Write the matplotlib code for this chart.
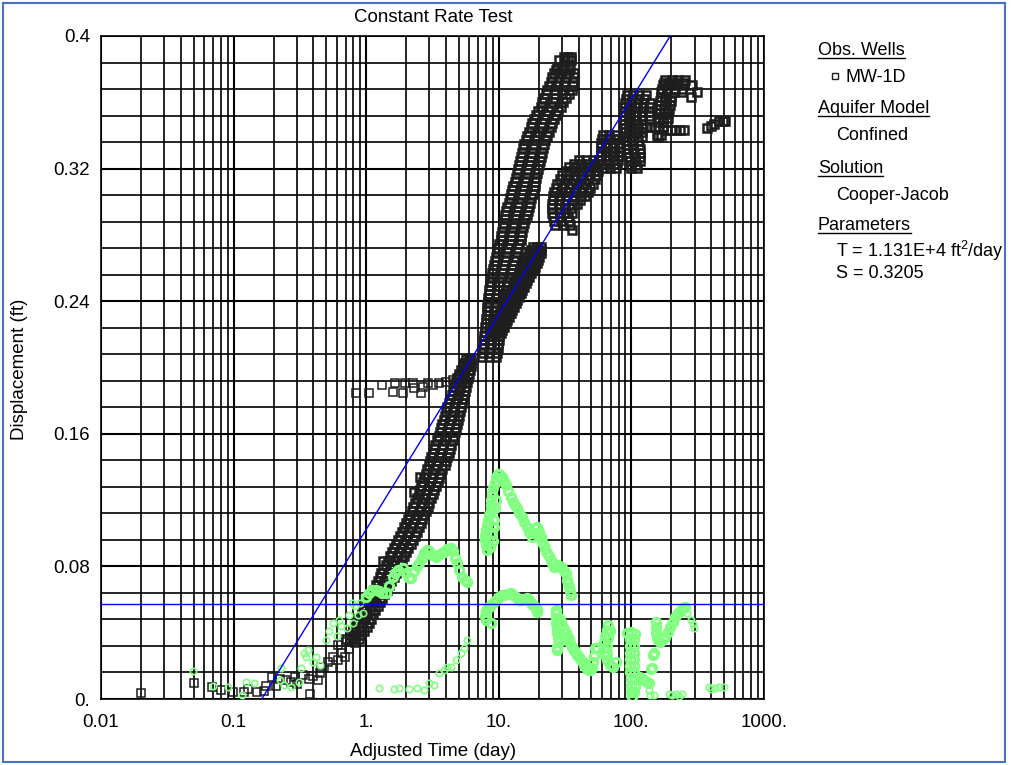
import numpy as np
import matplotlib
matplotlib.use('Agg')
import matplotlib.pyplot as plt
from matplotlib.ticker import FixedLocator, FixedFormatter, NullFormatter, LogLocator
from matplotlib.patches import Rectangle
from matplotlib.lines import Line2D

plt.rcParams['font.family'] = ['Liberation Sans', 'DejaVu Sans']
plt.rcParams['mathtext.fontset'] = 'custom'
plt.rcParams['mathtext.rm'] = 'Liberation Sans'

# axis ticks
x_ticks = [0.01, 0.1, 1, 10, 100, 1000]
x_labels = ['0.01', '0.1', '1.', '10.', '100.', '1000.']
y_ticks = [0.0, 0.08, 0.16, 0.24, 0.32, 0.4]
y_labels = ['0.', '0.08', '0.16', '0.24', '0.32', '0.4']
y_grid = [0.016 * i for i in range(26)]

# MW-1D observations (time in days, displacement in ft)
mw1d_early = [(0.0202, 0.0034), (0.050, 0.0095), (0.069, 0.007), (0.080, 0.0054), (0.099, 0.0044),
              (0.119, 0.0044), (0.129, 0.0058), (0.149, 0.0044), (0.169, 0.005), (0.177, 0.0078),
              (0.196, 0.013), (0.21, 0.008), (0.223, 0.0119), (0.25, 0.0115), (0.27, 0.010),
              (0.289, 0.013), (0.30, 0.009), (0.334, 0.0145), (0.375, 0.003), (0.37, 0.0119),
              (0.40, 0.014), (0.432, 0.0115), (0.445, 0.0155), (0.46, 0.0195), (0.515, 0.0225),
              (0.55, 0.019), (0.561, 0.0255), (0.612, 0.0235), (0.66, 0.028), (0.687, 0.0255),
              (0.612, 0.0326), (0.708, 0.0346), (0.74, 0.030), (0.76, 0.037), (0.83, 0.034),
              (0.794, 0.0406)]

mw1d_plateau = [(0.832, 0.1848), (1.05, 0.1848), (1.32, 0.1894), (1.59, 0.1854), (1.64, 0.1905),
                (1.89, 0.1848), (1.95, 0.1905), (2.25, 0.1905), (2.31, 0.1874), (2.6, 0.1844),
                (2.67, 0.1884), (2.92, 0.1905), (3.18, 0.1894), (3.57, 0.1905), (4.01, 0.1914),
                (4.5, 0.1925), (5.05, 0.1945), (5.5, 0.1975), (5.84, 0.2025)]

mw1d_lower_rows = [
    (0.036, [0.71, 0.80, 0.88]), (0.0385, [0.75, 0.84, 0.92]), (0.041, [0.79, 0.88, 0.97]),
    (0.0435, [0.82, 0.91, 1.01]), (0.046, [0.86, 0.95, 1.05]), (0.0485, [0.89, 0.98, 1.08]),
    (0.051, [0.93, 1.02, 1.12]), (0.0535, [0.96, 1.06, 1.17]), (0.056, [1.0, 1.1, 1.22]),
    (0.0585, [1.03, 1.14, 1.27]), (0.061, [1.07, 1.18, 1.32]), (0.0635, [1.10, 1.22, 1.37]),
    (0.066, [1.14, 1.27, 1.43]), (0.0685, [1.18, 1.31, 1.49]), (0.071, [1.22, 1.36, 1.55]),
    (0.0735, [1.26, 1.41, 1.61]), (0.076, [1.30, 1.46, 1.67]), (0.0785, [1.35, 1.51, 1.73]),
    (0.081, [1.40, 1.57, 1.80]), (0.0835, [1.45, 1.63, 1.87]), (0.086, [1.50, 1.70, 1.94]),
    (0.0885, [1.56, 1.76, 2.01]), (0.091, [1.62, 1.83, 2.08]), (0.0935, [1.68, 1.90, 2.16]),
    (0.096, [1.74, 1.97, 2.24]), (0.0985, [1.80, 2.04, 2.32]), (0.101, [1.87, 2.11, 2.40]),
    (0.1035, [1.93, 2.18, 2.48]), (0.106, [2.0, 2.26, 2.57]), (0.1085, [2.07, 2.34, 2.65]),
    (0.111, [2.14, 2.42, 2.74]), (0.1135, [2.20, 2.49, 2.82]), (0.116, [2.27, 2.57, 2.90]),
    (0.1185, [2.34, 2.65, 2.98]), (0.121, [2.42, 2.73, 3.07]), (0.1235, [2.48, 2.80, 3.17]),
    (0.126, [2.55, 2.88, 3.27]), (0.1285, [2.61, 2.96, 3.36]), (0.131, [2.68, 3.04, 3.45]),
    (0.1335, [2.75, 3.12, 3.54]), (0.136, [2.82, 3.20, 3.63]), (0.1385, [2.89, 3.28, 3.76]),
    (0.141, [2.96, 3.37, 3.90]), (0.1435, [3.03, 3.46, 4.00]), (0.146, [3.10, 3.55, 4.10]),
    (0.1485, [3.17, 3.63, 4.20]), (0.151, [3.25, 3.72, 4.30]), (0.1535, [3.33, 3.81, 4.39]),
    (0.156, [3.42, 3.90, 4.48]), (0.1585, [3.51, 3.99, 4.56]), (0.161, [3.60, 4.08, 4.64]),
    (0.1635, [3.68, 4.16, 4.72]), (0.166, [3.76, 4.24, 4.80]), (0.1685, [3.84, 4.33, 4.89]),
    (0.171, [3.93, 4.42, 4.98]), (0.1735, [4.01, 4.51, 5.07]), (0.176, [4.10, 4.60, 5.17]),
    (0.1785, [4.20, 4.70, 5.26]), (0.181, [4.30, 4.80, 5.36]), (0.1835, [4.41, 4.90, 5.45]),
    (0.186, [4.52, 5.00, 5.55]), (0.1885, [4.63, 5.11, 5.64]), (0.191, [4.75, 5.22, 5.74]),
    (0.1935, [4.87, 5.33, 5.83]), (0.196, [5.00, 5.45, 5.92]), (0.1985, [5.17, 5.58, 6.02]),
    (0.201, [5.35, 5.72, 6.12]), (0.203, [5.5, 5.84, 6.16]), (0.205, [5.65, 5.95, 6.2]),
    (0.083, [1.33]), (0.125, [2.3]), (0.134, [2.55]),
]

mw1d_band_a_rows = [
    (0.2065, [7.5, 8.4, 9.5]), (0.209, [7.55, 8.5, 9.65]), (0.2116, [7.6, 8.6, 9.8]),
    (0.2141, [7.67, 8.7, 9.9]), (0.2166, [7.74, 8.8, 10.0]), (0.2192, [7.8, 8.85, 10.05]),
    (0.2217, [7.85, 8.9, 10.1]), (0.2242, [7.9, 8.95, 10.2]), (0.2267, [7.97, 9.0, 10.3]),
    (0.2292, [8.03, 9.1, 10.4]), (0.2317, [8.1, 9.2, 10.45]), (0.2342, [8.15, 9.25, 10.5]),
    (0.2367, [8.2, 9.3, 10.6]), (0.2393, [8.25, 9.4, 10.75]), (0.2418, [8.3, 9.5, 10.9]),
    (0.2443, [8.37, 9.65, 11.1]), (0.2468, [8.44, 9.8, 11.3]), (0.2493, [8.57, 9.95, 11.55]),
    (0.2518, [8.7, 10.1, 11.8]), (0.2543, [8.82, 10.3, 12.05]), (0.2568, [8.94, 10.5, 12.3]),
    (0.2594, [9.07, 10.7, 12.55]), (0.2619, [9.2, 10.9, 12.8]), (0.2644, [9.34, 11.1, 13.1]),
    (0.2669, [9.48, 11.3, 13.4]), (0.2694, [9.7, 11.55, 13.7]), (0.2719, [9.9, 11.8, 14.0]),
    (0.2744, [10.1, 12.05, 14.3]), (0.2769, [10.3, 12.3, 14.6]), (0.2795, [10.45, 12.45, 14.8]),
    (0.282, [10.6, 12.6, 15.0]), (0.2845, [10.75, 12.8, 15.25]), (0.287, [10.9, 13.0, 15.5]),
    (0.2895, [11.05, 13.25, 15.85]), (0.292, [11.2, 13.5, 16.2]), (0.2945, [11.4, 13.75, 16.55]),
    (0.297, [11.6, 14.0, 16.9]), (0.2995, [11.85, 14.3, 17.25]), (0.302, [12.1, 14.6, 17.6]),
    (0.3045, [12.35, 14.9, 18.0]), (0.3071, [12.6, 15.2, 18.4]), (0.3096, [12.9, 15.5, 18.65]),
    (0.3121, [13.2, 15.8, 18.9]), (0.3146, [13.5, 16.1, 19.2]), (0.3172, [13.8, 16.4, 19.5]),
    (0.3197, [14.0, 16.65, 19.8]), (0.3222, [14.2, 16.9, 20.1]), (0.3247, [14.4, 17.15, 20.4]),
    (0.3272, [14.6, 17.4, 20.7]), (0.3297, [14.9, 17.75, 21.15]), (0.3322, [15.2, 18.1, 21.6]),
    (0.3347, [15.55, 18.5, 22.05]), (0.3373, [15.9, 18.9, 22.5]), (0.3398, [16.4, 19.45, 23.15]),
    (0.3423, [16.9, 20.0, 23.8]), (0.3448, [17.4, 20.65, 24.55]), (0.3473, [17.9, 21.3, 25.3]),
    (0.3498, [18.55, 22.0, 26.1]), (0.3523, [19.2, 22.8, 27.0]), (0.3548, [19.9, 23.7, 28.1]),
    (0.3574, [20.7, 24.6, 29.2]), (0.3599, [21.3, 25.5, 30.6]), (0.3624, [22.0, 26.5, 32.0]),
    (0.3649, [22.6, 26.5, 30.0, 34.0]), (0.3674, [23.2, 26.5, 30.5, 35.8]),
    (0.37, [23.9, 27.2, 31.1, 36.1]), (0.3725, [24.6, 27.8, 31.8, 36.5]),
    (0.375, [25.3, 28.6, 32.4, 36.6]), (0.3775, [26.1, 29.5, 33.0, 36.8]),
    (0.3795, [26.8, 30.2, 33.8]), (0.3815, [27.5, 31.0, 34.5]), (0.3855, [28.4, 31.5, 34.8]),
    (0.3875, [31.0, 33.0, 35.0]),
]

mw1d_band_b_rows = [
    (0.2206, [8.6, 9.4, 10.3]), (0.2226, [8.9, 9.75, 10.65]), (0.2247, [9.2, 10.1, 11.0]),
    (0.2267, [9.45, 10.35, 11.3]), (0.2287, [9.7, 10.6, 11.6]), (0.2307, [9.95, 10.9, 11.95]),
    (0.2327, [10.2, 11.2, 12.3]), (0.2347, [10.5, 11.55, 12.65]), (0.2367, [10.8, 11.9, 13.0]),
    (0.2388, [11.1, 12.25, 13.4]), (0.2408, [11.4, 12.6, 13.8]), (0.2428, [11.7, 12.95, 14.2]),
    (0.2448, [12.0, 13.3, 14.6]), (0.2468, [12.35, 13.65, 15.05]), (0.2488, [12.7, 14.0, 15.5]),
    (0.2508, [13.05, 14.4, 15.95]), (0.2528, [13.4, 14.8, 16.4]), (0.2548, [13.75, 15.3, 17.0]),
    (0.2568, [14.1, 15.8, 17.6]), (0.2588, [14.5, 16.3, 18.25]), (0.2608, [14.9, 16.8, 18.9]),
    (0.2629, [15.35, 17.3, 19.35]), (0.2649, [15.8, 17.8, 19.8]), (0.2669, [16.35, 18.25, 20.25]),
    (0.2689, [16.9, 18.7, 20.7]), (0.2709, [17.45, 19.1, 20.7]), (0.2729, [18.0, 19.5, 20.7]),
    (0.283, [35.5]), (0.286, [26.5, 30.5, 34.5]), (0.2885, [26.0, 29.7, 33.7]),
    (0.291, [25.5, 29.0, 33.0]), (0.2935, [25.4, 28.7, 32.2, 35.5]),
    (0.296, [25.3, 28.4, 31.5, 35.0]), (0.2985, [25.4, 28.4, 31.7, 35.7, 39]),
    (0.301, [25.5, 28.5, 32.0, 36.5, 41]), (0.3035, [25.8, 29.0, 32.5, 36.7, 41.5, 45]),
    (0.306, [26.1, 29.5, 33.0, 37.0, 42, 47]), (0.3085, [26.8, 30.2, 34.0, 38.5, 43.5, 49]),
    (0.311, [27.5, 31.0, 35.0, 40.0, 45, 51]), (0.3135, [28.7, 32.5, 36.5, 41.5, 47, 53]),
    (0.316, [30.0, 34.0, 38.0, 43.0, 49, 55]), (0.3185, [32.0, 36.0, 40.5, 46.0, 52, 56]),
    (0.321, [34.0, 38.5, 43.5, 49.0, 55]), (0.323, [37.0, 42.0, 47.0, 52.5, 56]),
    (0.325, [40.0, 45.5, 51.0, 57]),
]

mw1d_late_rows = [
    (0.3403, [61, 68, 76]), (0.3378, [60, 67, 74, 79]), (0.3353, [59, 66, 73, 80]),
    (0.3328, [58.7, 65.5, 72.5, 80]), (0.3303, [58.5, 65, 72, 80]), (0.3278, [58.7, 65.5, 72.5, 79.5]),
    (0.3253, [59, 66, 73, 79]), (0.3228, [60.5, 67.5, 74.5, 78]), (0.3203, [62, 69, 76]),
    (0.3644, [93, 103, 115, 128]), (0.3619, [91, 101, 112, 125]), (0.3594, [89, 99, 110, 122, 138]),
    (0.3569, [88.5, 98.5, 109.5, 121.5, 136]), (0.3544, [88, 98, 109, 121, 135]),
    (0.3519, [88, 98, 109, 121, 136]), (0.3494, [88, 98, 109, 121, 138]),
    (0.3469, [88.5, 98.5, 109.5, 120.5]), (0.3443, [89, 99, 110, 120]),
    (0.3418, [89.5, 99.5, 110.5, 120]), (0.3393, [90, 100, 111, 120]), (0.3368, [91, 101, 112]),
    (0.3343, [92, 102, 114]), (0.3318, [93.5, 103.5, 115.5]), (0.3293, [95, 105, 117]),
    (0.3268, [96, 106, 116.5]), (0.3243, [97, 107, 116]), (0.3223, [98.5, 108.5]), (0.3203, [100, 110]),
    (0.3734, [180, 201, 225, 255]), (0.3719, [176, 195, 220, 250]), (0.3704, [172, 190, 215, 245, 285]),
    (0.3683, [170, 187, 212, 242]), (0.3663, [168, 185, 210, 240, 311]), (0.3632, [166, 180, 200, 280]),
    (0.3608, [165, 179, 198]), (0.3583, [164, 178, 196]), (0.3558, [163, 176.5, 193]),
    (0.3533, [162, 175, 190]), (0.3508, [161, 173.5, 187.5]), (0.3483, [160, 172, 185]),
    (0.3453, [128, 140, 150, 160, 172]), (0.3433, [186, 200, 215, 231, 248]),
    (0.3403, [156, 168]), (0.3391, [160]),
    (0.3445, [370]), (0.346, [395]), (0.347, [420]), (0.3485, [455]), (0.349, [490, 510]),
]

# second (unlabelled) data set, light green circles
green_early = [(0.0492, 0.0171), (0.0697, 0.0078), (0.0903, 0.0071), (0.116, 0.0024), (0.124, 0.0104),
               (0.1435, 0.0095), (0.223, 0.0115), (0.228, 0.0185), (0.241, 0.0084), (0.271, 0.0071),
               (0.313, 0.0104), (0.322, 0.0185), (0.341, 0.0276), (0.352, 0.0255), (0.361, 0.0296),
               (0.394, 0.0225), (0.418, 0.0255), (0.445, 0.0205), (0.497, 0.0356), (0.52, 0.041),
               (0.557, 0.0457), (0.60, 0.038), (0.627, 0.0477), (0.65, 0.044), (0.72, 0.043),
               (0.745, 0.0507), (0.785, 0.058), (0.79, 0.0457), (0.82, 0.056), (0.86, 0.0507),
               (0.9, 0.058), (0.95, 0.052)]

green_rise_2 = [(1.25, 0.0065), (1.62, 0.006), (1.77, 0.0065), (2.1, 0.0062), (2.43, 0.0065), (2.73, 0.0054),
                (2.98, 0.0095), (3.25, 0.0084), (3.55, 0.0155), (3.87, 0.0175), (4.1, 0.0195),
                (4.37, 0.0193), (4.73, 0.0235), (5.17, 0.0276), (5.47, 0.0308), (5.79, 0.0356)]

green_sparse_late = [(191, 0.003), (201, 0.0024), (216, 0.003), (228, 0.0018), (240, 0.003), (383, 0.007),
                     (400, 0.006), (427, 0.0065), (460, 0.007), (497, 0.007), (263, 0.0517),
                     (280, 0.0477), (290, 0.045), (297, 0.0427), (135, 0.0054), (147.5, 0.0024),
                     (139, 0.0024)]

green_rise_1 = [(1.0, 0.0617), (1.05, 0.064), (1.1, 0.066), (1.18, 0.0658), (1.25, 0.065), (1.32, 0.064),
                (1.41, 0.0638), (1.48, 0.068), (1.58, 0.0738), (1.66, 0.076), (1.75, 0.078), (1.88, 0.0789),
                (2.0, 0.076), (2.1, 0.073), (2.17, 0.0728), (2.3, 0.077), (2.4, 0.080), (2.5, 0.0819),
                (2.62, 0.085), (2.75, 0.088), (2.89, 0.0899), (3.0, 0.089), (3.15, 0.087), (3.34, 0.0859),
                (3.5, 0.087), (3.7, 0.088), (3.86, 0.0889), (4.1, 0.0905), (4.34, 0.0909), (4.5, 0.089),
                (4.7, 0.085), (4.87, 0.0819), (5.05, 0.078), (5.31, 0.0738), (5.55, 0.072), (5.8, 0.0708)]

green_peak = [(8.2, 0.0899), (8.0, 0.093), (7.9, 0.096), (7.9, 0.099), (7.97, 0.102), (8.1, 0.105),
              (8.3, 0.108), (8.5, 0.111), (8.69, 0.114), (8.75, 0.117), (8.8, 0.12), (8.94, 0.1241),
              (9.1, 0.127), (9.3, 0.1305), (9.48, 0.1341), (9.8, 0.1355), (10.1, 0.1355), (10.5, 0.134),
              (10.9, 0.1315), (11.3, 0.1291), (11.8, 0.1255), (12.3, 0.122), (12.8, 0.119), (13.3, 0.117),
              (13.8, 0.115), (14.3, 0.1125), (14.9, 0.11), (15.5, 0.107), (16.2, 0.104), (16.9, 0.101),
              (17.9, 0.0979), (18.5, 0.1), (19.0, 0.103), (19.5, 0.104), (20.1, 0.101), (20.7, 0.0979),
              (21.3, 0.095), (21.9, 0.093), (22.5, 0.0905), (23.2, 0.0879), (23.9, 0.086), (24.6, 0.084),
              (25.3, 0.082), (26.1, 0.0798), (26.8, 0.080), (27.6, 0.081), (28.4, 0.0805), (29.2, 0.0798),
              (30.0, 0.079), (30.8, 0.0775), (31.9, 0.0758), (32.8, 0.072), (33.3, 0.070), (33.8, 0.0678),
              (34.3, 0.065), (34.8, 0.0627), (8.5, 0.0959), (8.9, 0.1), (9.2, 0.104), (9.0, 0.0955),
              (8.6, 0.092), (9.2, 0.108), (9.3, 0.115), (9.6, 0.12)]

green_hump = [(7.97, 0.0477), (7.9, 0.050), (8.0, 0.053), (8.2, 0.0545), (8.44, 0.0557), (8.8, 0.057),
              (9.2, 0.0585), (9.6, 0.060), (10.0, 0.0617), (10.5, 0.0625), (11.0, 0.063), (11.6, 0.0635),
              (12.3, 0.0638), (12.8, 0.063), (13.4, 0.0615), (14.2, 0.0597), (14.8, 0.060), (15.5, 0.0605),
              (16.4, 0.0608), (17.0, 0.0595), (17.6, 0.058), (18.2, 0.057), (18.9, 0.0557), (19.3, 0.054),
              (19.5, 0.0527), (8.69, 0.0457)]

green_fall = [(26.8, 0.0537), (27.0, 0.0519), (27.0, 0.049), (27.0, 0.0459), (27.3, 0.043), (27.6, 0.0398),
              (28.0, 0.037), (28.4, 0.0344), (27.6, 0.0316), (27.6, 0.0296), (28.4, 0.049), (29.2, 0.0465),
              (29.9, 0.044), (31.0, 0.042), (32.1, 0.0398), (33.0, 0.0377), (33.8, 0.0356), (34.7, 0.0335),
              (35.6, 0.0314), (36.8, 0.0296), (38.1, 0.0278), (39.1, 0.0265), (40.2, 0.0253), (41.6, 0.0238),
              (43.1, 0.0223), (44.2, 0.0208), (45.4, 0.0193), (46.6, 0.0184), (47.8, 0.0175), (49.1, 0.0175),
              (50.5, 0.019), (51.5, 0.0225), (52.5, 0.026), (53.6, 0.0306), (55.0, 0.031),
              (67.0, 0.0447), (65.3, 0.0416), (62.8, 0.038), (61.9, 0.0344), (61.9, 0.0308), (62.8, 0.0265),
              (65.3, 0.0235), (68.7, 0.0205), (72.4, 0.0193), (76.3, 0.0223), (69.0, 0.041), (66.5, 0.037),
              (65.5, 0.032), (66.0, 0.027)]

green_late = [(93, 0.040), (100, 0.0406), (107, 0.039), (97, 0.036), (104, 0.036), (97, 0.032), (104, 0.032),
              (97, 0.028), (104, 0.028), (97, 0.024), (104, 0.024), (98, 0.020), (105, 0.020), (98, 0.016),
              (105, 0.016), (99, 0.012), (106, 0.012), (99, 0.008), (106, 0.008), (100, 0.004), (104, 0.004),
              (101, 0.001), (114, 0.0133), (119, 0.0124), (124, 0.0115), (130, 0.0105), (135, 0.0097),
              (147.5, 0.0278), (145, 0.0265), (142.5, 0.0187), (140, 0.018),
              (152, 0.0466), (152, 0.0435), (152, 0.0396), (156, 0.037), (160, 0.0355),
              (165, 0.0346), (172, 0.0365), (180, 0.0376), (188, 0.0405), (196, 0.0436), (205, 0.0466),
              (214, 0.0497), (224, 0.052), (235, 0.0537), (245, 0.055), (255, 0.0557)]

# Cooper-Jacob straight-line fit and horizontal reference line
fit_t = [0.163, 196.0]
fit_v = [0.0, 0.4]
ref_level = 0.0573

legend_entries = [('Obs. Wells', 818, 55, True), ('MW-1D', 846, 82, False),
                  ('Aquifer Model', 818, 113, True), ('Confined', 836, 140, False),
                  ('Solution', 818, 173, True), ('Cooper-Jacob', 836, 200, False),
                  ('Parameters', 818, 230, True), ('T = 1.131E+4 ft$^{2}$/day', 836, 257, False),
                  ('S = 0.3205', 836, 278, False)]


def rows_to_points(rows):
    pts = []
    for level, times in rows:
        for t in times:
            pts.append((t, level))
    return pts


W, H = 1012, 765
def fx(px):
    return px / W
def fy(py):
    return 1 - py / H


fig = plt.figure(figsize=(W / 100, H / 100), dpi=100)
ax = fig.add_axes([fx(101), fy(699), fx(764) - fx(101), fy(36) - fy(699)])

black_sparse = np.array(mw1d_early + mw1d_plateau)
black_dense = np.array(rows_to_points(mw1d_lower_rows) + rows_to_points(mw1d_band_a_rows)
                       + rows_to_points(mw1d_band_b_rows) + rows_to_points(mw1d_late_rows))
green_sparse = np.array(green_early + green_rise_2 + green_sparse_late)
green_dense = np.array(green_rise_1 + green_peak + green_hump + green_fall + green_late)

sq = dict(ls='none', marker='s', mfc='none', mec='#1e1e1e', zorder=3)
ax.plot(black_sparse[:, 0], black_sparse[:, 1], ms=5.5, mew=1.1, **sq)
ax.plot(black_dense[:, 0], black_dense[:, 1], ms=5.8, mew=1.8, **sq)
ci = dict(ls='none', marker='o', mfc='none', mec='#80FF80', zorder=4)
ax.plot(green_sparse[:, 0], green_sparse[:, 1], ms=4.6, mew=1.2, **ci)
ax.plot(green_dense[:, 0], green_dense[:, 1], ms=6.0, mew=2.2, **ci)
ax.plot(fit_t, fit_v, color='#0000FF', lw=1.0, zorder=5)
ax.axhline(ref_level, color='#0000FF', lw=1.0, zorder=5)

ax.set_xscale('log')
ax.set_xlim(0.01, 1000)
ax.set_ylim(0, 0.4)
ax.xaxis.set_major_locator(FixedLocator(x_ticks))
ax.xaxis.set_major_formatter(FixedFormatter(x_labels))
ax.xaxis.set_minor_locator(LogLocator(base=10, subs=np.arange(2, 10)))
ax.xaxis.set_minor_formatter(NullFormatter())
ax.yaxis.set_major_locator(FixedLocator(y_ticks))
ax.yaxis.set_major_formatter(FixedFormatter(y_labels))
ax.yaxis.set_minor_locator(FixedLocator(y_grid))
ax.grid(which='major', color='black', lw=1.5, zorder=1)
ax.grid(which='minor', color='black', lw=1.2, zorder=1)
ax.set_axisbelow(True)
ax.tick_params(which='both', length=0, labelsize=13.5)
ax.tick_params(axis='x', pad=11)
ax.tick_params(axis='y', pad=8)
for s in ax.spines.values():
    s.set_color('black')
    s.set_linewidth(1.2)

fig.text(fx(433), fy(17), 'Constant Rate Test', ha='center', va='center', fontsize=13.5)
fig.text(fx(433), fy(752), 'Adjusted Time (day)', ha='center', va='center', fontsize=13.5)
fig.text(fx(20), fy(369), 'Displacement (ft)', ha='center', va='center', rotation=90, fontsize=13.5)

renderer = fig.canvas.get_renderer()
for label, px, py, underline in legend_entries:
    txt = fig.text(fx(px), fy(py), label, ha='left', va='baseline', fontsize=13)
    if underline:
        bb = txt.get_window_extent(renderer)
        fig.add_artist(Line2D([bb.x0 / W, bb.x1 / W], [fy(py + 3), fy(py + 3)], color='black', lw=1.0))
fig.add_artist(Line2D([fx(835)], [fy(76)], marker='s', ms=5, mfc='none', mec='#1e1e1e', mew=1.0))

fig.add_artist(Rectangle((fx(3), fy(762)), fx(1005) - fx(3), fy(3) - fy(762), fill=False,
                         ec='#4472C4', lw=1.5, transform=fig.transFigure))

fig.savefig('out.png', dpi=100)
